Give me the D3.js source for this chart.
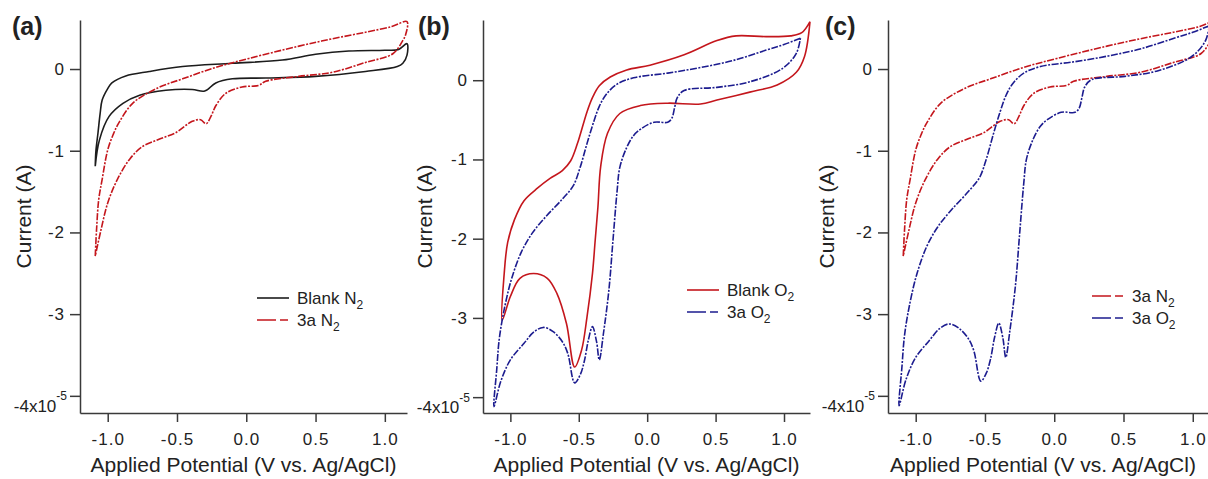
<!DOCTYPE html>
<html>
<head>
<meta charset="utf-8">
<script src="https://cdn.jsdelivr.net/npm/d3@7"></script>
<style>
body { margin: 0; background: #fff; }
svg text { font-family: "Liberation Sans", Arial, sans-serif; fill: #222; }
</style>
</head>
<body>
<div id="chart"></div>
<script>
// current values are in units of 1e-5 A, potential in V vs Ag/AgCl
var blankN2 = [[-1.09,-1.19],[-1.085,-1.0],[-1.07,-0.78],[-1.055,-0.55],[-1.04,-0.38],[-1.0,-0.24],[-0.97,-0.17],
    [-0.87,-0.085],[-0.70,-0.03],[-0.46,0.03],[-0.10,0.07],[0.26,0.11],[0.50,0.18],[0.74,0.22],[1.00,0.23],
    [1.10,0.24],[1.16,0.31],[1.16,0.17],[1.13,0.07],[1.09,0.03],[0.86,-0.03],[0.50,-0.09],[0.14,-0.11],
    [-0.10,-0.12],[-0.22,-0.17],[-0.30,-0.27],[-0.39,-0.25],[-0.58,-0.26],[-0.77,-0.32],[-0.89,-0.42],
    [-0.99,-0.58],[-1.06,-0.87],[-1.09,-1.19]]

var n2_3a = [[-1.09,-2.29],[-1.08,-1.95],[-1.065,-1.6],[-1.04,-1.35],[-1.0,-0.99],[-0.96,-0.8],[-0.92,-0.66],
    [-0.82,-0.42],[-0.65,-0.24],[-0.46,-0.12],[-0.22,0.02],[0.02,0.13],[0.38,0.28],[0.62,0.37],[0.86,0.45],
    [1.05,0.52],[1.16,0.58],[1.15,0.42],[1.13,0.35],[1.06,0.19],[0.86,0.08],[0.62,-0.04],[0.38,-0.09],
    [0.14,-0.15],[0.09,-0.20],[-0.03,-0.22],[-0.15,-0.30],[-0.22,-0.45],[-0.255,-0.58],[-0.29,-0.67],
    [-0.33,-0.62],[-0.39,-0.64],[-0.51,-0.78],[-0.63,-0.86],[-0.75,-0.95],[-0.84,-1.1],[-0.93,-1.35],
    [-1.0,-1.64],[-1.05,-1.98],[-1.09,-2.29]]

var blankO2 = [[1.19,0.74],[1.13,0.6],[1.05,0.56],[0.87,0.55],[0.65,0.56],[0.51,0.5],[0.27,0.32],[0.02,0.19],
    [-0.15,0.13],[-0.27,0.04],[-0.35,-0.07],[-0.40,-0.22],[-0.44,-0.40],[-0.51,-0.8],[-0.56,-1.02],
    [-0.62,-1.14],[-0.71,-1.24],[-0.80,-1.36],[-0.90,-1.52],[-0.97,-1.76],[-1.02,-2.05],[-1.045,-2.44],
    [-1.06,-3.03],[-1.0,-2.73],[-0.93,-2.5],[-0.83,-2.44],[-0.73,-2.5],[-0.66,-2.69],[-0.59,-3.07],
    [-0.53,-3.62],[-0.48,-3.41],[-0.44,-2.99],[-0.40,-2.44],[-0.38,-2.02],[-0.36,-1.6],[-0.34,-1.09],
    [-0.29,-0.67],[-0.20,-0.42],[-0.05,-0.32],[0.15,-0.29],[0.39,-0.30],[0.51,-0.25],[0.75,-0.15],
    [0.95,-0.06],[1.09,0.1],[1.15,0.3],[1.19,0.74]]

var o2_3a = [[1.12,0.53],[1.0,0.45],[0.87,0.38],[0.63,0.25],[0.39,0.16],[0.15,0.09],[-0.10,0.03],[-0.22,-0.05],
    [-0.30,-0.18],[-0.35,-0.33],[-0.39,-0.52],[-0.44,-0.8],[-0.49,-1.1],[-0.54,-1.33],[-0.62,-1.5],
    [-0.74,-1.72],[-0.84,-1.93],[-0.92,-2.17],[-0.99,-2.5],[-1.04,-2.85],[-1.08,-3.25],[-1.10,-3.66],
    [-1.12,-4.12],[-1.07,-3.8],[-1.0,-3.53],[-0.9,-3.32],[-0.83,-3.18],[-0.76,-3.12],[-0.69,-3.17],
    [-0.62,-3.3],[-0.58,-3.45],[-0.53,-3.82],[-0.49,-3.72],[-0.46,-3.55],[-0.43,-3.28],[-0.40,-3.11],
    [-0.37,-3.3],[-0.35,-3.53],[-0.32,-3.2],[-0.28,-2.65],[-0.25,-2.02],[-0.22,-1.4],[-0.20,-1.1],
    [-0.15,-0.85],[-0.10,-0.7],[-0.05,-0.62],[0.05,-0.53],[0.15,-0.53],[0.18,-0.48],[0.20,-0.35],
    [0.22,-0.22],[0.27,-0.13],[0.51,-0.09],[0.75,-0.02],[0.99,0.15],[1.09,0.34],[1.12,0.53]]

var xTicks = [-1, -0.5, 0, 0.5, 1],
    yTicks = [0, -1, -2, -3, -4]

var styles = {
    blankN2: { name: 'Blank N', gas: '2', color: '#1c1c1c', dash: null },
    n2_3a:   { name: '3a N', gas: '2', color: '#c4161c', dash: '7,1.5,2,1.5' },
    blankO2: { name: 'Blank O', gas: '2', color: '#c4161c', dash: null },
    o2_3a:   { name: '3a O', gas: '2', color: '#1c1c8f', dash: '7,1.5,2,1.5' }
}
var curves = { blankN2: blankN2, n2_3a: n2_3a, blankO2: blankO2, o2_3a: o2_3a }

var panels = [
    { id: 'a', left: 80, right: 407, xDom: [-1.2, 1.16], yDom: [-4.21, 0.6], series: ['blankN2', 'n2_3a'],
      legX: 257, legY: 298, titleX: 12, ylabX: 31 },
    { id: 'b', left: 483, right: 810, xDom: [-1.2, 1.19], yDom: [-4.2, 0.76], series: ['blankO2', 'o2_3a'],
      legX: 687, legY: 290, titleX: 418, ylabX: 432 },
    { id: 'c', left: 888, right: 1208, xDom: [-1.2, 1.11], yDom: [-4.21, 0.6], series: ['n2_3a', 'o2_3a'],
      legX: 1092, legY: 296, titleX: 825, ylabX: 834 }
]

var width = 1208, height = 479,
    top_y = 20, bottom_y = 413

var svg = d3.select('#chart').append('svg')
    .attr('width', width)
    .attr('height', height)

panels.forEach(function(p) {
    var x = d3.scaleLinear().domain(p.xDom).range([p.left, p.right]),
        y = d3.scaleLinear().domain(p.yDom).range([bottom_y, top_y])

    var g = svg.append('g').attr('class', 'panel-' + p.id)

    g.append('clipPath').attr('id', 'clip-' + p.id)
        .append('rect')
        .attr('x', p.left).attr('y', 0)
        .attr('width', p.right - p.left + 2).attr('height', bottom_y)

    var line = d3.line()
        .x(function(d) { return x(d[0]) })
        .y(function(d) { return y(d[1]) })
        .curve(d3.curveCatmullRom.alpha(0.5))

    // the CV loops
    p.series.forEach(function(key) {
        var s = styles[key]
        g.append('path')
            .datum(curves[key])
            .attr('clip-path', 'url(#clip-' + p.id + ')')
            .attr('fill', 'none')
            .attr('stroke', s.color)
            .attr('stroke-width', 1.6)
            .attr('stroke-dasharray', s.dash)
            .attr('stroke-linejoin', 'round')
            .attr('d', line)
    })

    // axes
    var xAxis = g.append('g')
        .attr('transform', 'translate(0,' + bottom_y + ')')
        .call(d3.axisBottom(x).tickValues(xTicks).tickSize(9).tickSizeOuter(0).tickPadding(11)
            .tickFormat(function(d) { return d.toFixed(1) }))

    var yAxis = g.append('g')
        .attr('transform', 'translate(' + p.left + ',0)')
        .call(d3.axisLeft(y).tickValues(yTicks).tickSize(10).tickSizeOuter(0).tickPadding(5)
            .tickFormat(function(d) { return d === -4 ? '-4x10' : String(d) }))

    ;[xAxis, yAxis].forEach(function(ax) {
        ax.select('.domain').attr('stroke', '#3a3a3a').attr('stroke-width', 1.5)
        ax.selectAll('.tick line').attr('stroke', '#3a3a3a').attr('stroke-width', 1.5)
        ax.selectAll('.tick text')
            .attr('font-size', 17)
            .attr('letter-spacing', 1)
            .attr('fill', '#222')
            .attr('font-family', '"Liberation Sans", Arial, sans-serif')
    })

    // -4 label carries the exponent
    yAxis.selectAll('.tick text')
        .filter(function(d) { return d === -4 })
        .attr('dy', '0.9em')
        .attr('x', -13)
        .attr('letter-spacing', 0)
        .each(function() {
            d3.select(this).append('tspan')
                .attr('font-size', 12)
                .attr('dy', '-0.95em')
                .text('-5')
        })

    // axis titles
    g.append('text')
        .attr('x', (p.left + p.right) / 2 + (p.id === 'c' ? -5 : 0))
        .attr('y', 472)
        .attr('text-anchor', 'middle')
        .attr('font-size', 21)
        .text('Applied Potential (V vs. Ag/AgCl)')

    g.append('text')
        .attr('transform', 'translate(' + p.ylabX + ',' + (top_y + bottom_y) / 2 + ') rotate(-90)')
        .attr('text-anchor', 'middle')
        .attr('font-size', 21)
        .text('Current (A)')

    g.append('text')
        .attr('x', p.titleX)
        .attr('y', 35)
        .attr('font-size', 25)
        .attr('font-weight', 'bold')
        .attr('fill', '#111')
        .text('(' + p.id + ')')

    // legend
    var leg = g.append('g')
    p.series.forEach(function(key, i) {
        var s = styles[key],
            ly = p.legY + i * 22
        leg.append('line')
            .attr('x1', p.legX).attr('x2', p.legX + 32)
            .attr('y1', ly).attr('y2', ly)
            .attr('stroke', s.color)
            .attr('stroke-width', 1.6)
            .attr('stroke-dasharray', s.dash ? '19,4,8,4' : null)
        var t = leg.append('text')
            .attr('x', p.legX + 40)
            .attr('y', ly + 6)
            .attr('font-size', 17)
        t.append('tspan').text(s.name)
        t.append('tspan').attr('font-size', 12).attr('dy', 5).text(s.gas)
    })
})
</script>
</body>
</html>
